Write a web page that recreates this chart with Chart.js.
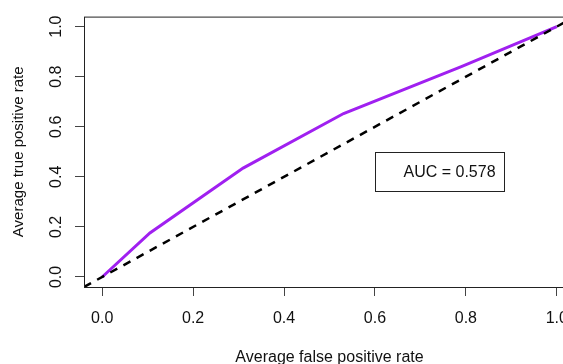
<!DOCTYPE html>
<html>
<head>
<meta charset="utf-8">
<script src="https://cdn.jsdelivr.net/npm/chart.js@4"></script>
<style>
  html, body { margin: 0; padding: 0; background: #fff; overflow: hidden; }
  canvas { display: block; }
</style>
</head>
<body>
<canvas id="rocChart" width="600" height="364"></canvas>
<script>
// averaged ROC curve
const fprValues = [0, 0.105, 0.31, 0.531, 0.79, 1];
const tprValues = [0, 0.176, 0.435, 0.653, 0.84, 1];
// chance diagonal, runs across the whole plot region
const chanceValues = [-0.04, 1.04];
const tickValues = [0, 0.2, 0.4, 0.6, 0.8, 1];
const aucLabel = 'AUC = 0.578';

const FONT = '"Liberation Sans", Arial, sans-serif';
Chart.defaults.font.family = FONT;
Chart.defaults.font.size = 16;
Chart.defaults.color = '#111';

// frame around the plot plus the AUC legend box
const framePlugin = {
  id: 'frame',
  afterDatasetsDraw(chart, args, opts) {
    const { ctx, chartArea: a, scales: { x, y } } = chart;
    ctx.save();
    ctx.strokeStyle = '#222';
    ctx.lineWidth = 1;
    ctx.strokeRect(a.left + 0.5, a.top + 0.5, a.right - a.left, a.bottom - a.top);

    const l = Math.round(x.getPixelForValue(opts.x0)) + 0.5;
    const r = Math.round(x.getPixelForValue(opts.x1)) + 0.5;
    const t = Math.round(y.getPixelForValue(opts.y0)) + 0.5;
    const b = Math.round(y.getPixelForValue(opts.y1)) + 0.5;
    ctx.fillStyle = '#fff';
    ctx.fillRect(l, t, r - l, b - t);
    ctx.strokeRect(l, t, r - l, b - t);
    ctx.fillStyle = '#111';
    ctx.font = '16px ' + FONT;
    ctx.textAlign = 'left';
    ctx.textBaseline = 'middle';
    ctx.fillText(opts.text, l + 28, (t + b) / 2 + 1);
    ctx.restore();
  }
};

const axisTicks = {
  display: true,
  drawOnChartArea: false,
  drawTicks: true,
  tickLength: 9,
  tickColor: '#444',
  tickWidth: 1
};

function setTicks(scale) {
  scale.ticks = tickValues.map(v => ({ value: v }));
}

new Chart(document.getElementById('rocChart'), {
  type: 'scatter',
  data: {
    datasets: [
      {
        label: 'chance',
        data: chanceValues.map(v => ({ x: v, y: v })),
        showLine: true,
        borderColor: '#000',
        borderWidth: 2.5,
        borderDash: [8, 7],
        pointRadius: 0,
        order: 0
      },
      {
        label: 'ROC',
        data: fprValues.map((v, i) => ({ x: v, y: tprValues[i] })),
        showLine: true,
        borderColor: '#a020f0',
        borderWidth: 3,
        pointRadius: 0,
        order: 1
      }
    ]
  },
  options: {
    responsive: false,
    animation: false,
    events: [],
    layout: { padding: { top: 16, right: 25, left: 0, bottom: 0 } },
    plugins: {
      legend: { display: false },
      tooltip: { enabled: false },
      frame: { x0: 0.6, x1: 0.884, y0: 0.5, y1: 0.343, text: aucLabel }
    },
    scales: {
      x: {
        type: 'linear',
        min: -0.04,
        max: 1.04,
        afterBuildTicks: setTicks,
        afterFit(scale) { scale.height = 77; },
        grid: axisTicks,
        border: { display: false },
        ticks: {
          padding: 13,
          maxRotation: 0,
          callback: v => v.toFixed(1)
        },
        title: {
          display: true,
          text: 'Average false positive rate',
          padding: { top: 0, bottom: -3 }
        }
      },
      y: {
        type: 'linear',
        min: -0.04,
        max: 1.04,
        afterBuildTicks: setTicks,
        afterFit(scale) { scale.width = 84; },
        grid: axisTicks,
        border: { display: false },
        ticks: {
          padding: 7,
          minRotation: 90,
          maxRotation: 90,
          crossAlign: 'center',
          callback: v => v.toFixed(1)
        },
        title: {
          display: true,
          text: 'Average true positive rate',
          font: { size: 15 },
          padding: { top: 10, bottom: 0 }
        }
      }
    }
  },
  plugins: [framePlugin]
});
</script>
</body>
</html>
